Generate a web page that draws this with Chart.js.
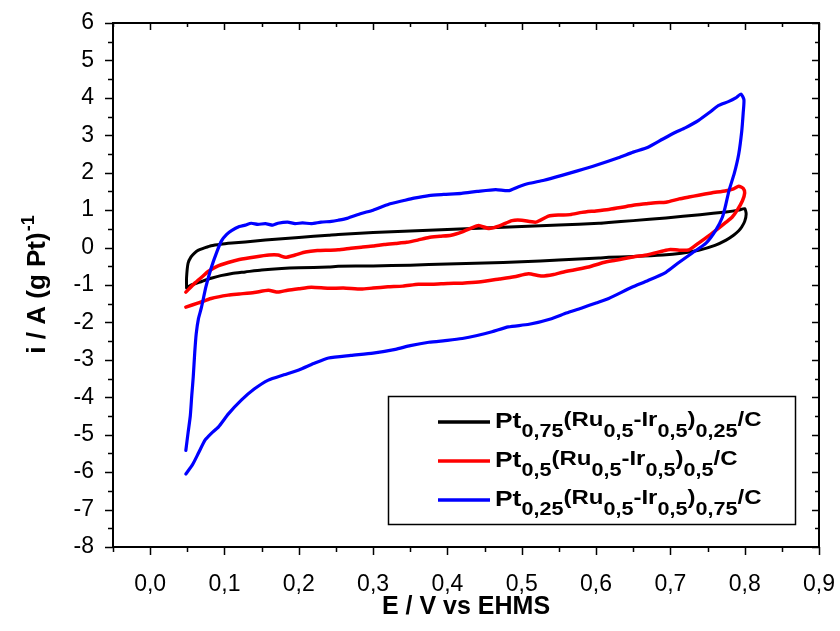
<!DOCTYPE html>
<html>
<head>
<meta charset="utf-8">
<script src="https://cdn.jsdelivr.net/npm/chart.js@4.4.1/dist/chart.umd.min.js"></script>
<style>
html,body{margin:0;padding:0;background:#fff;}
canvas{display:block;}
</style>
</head>
<body>
<canvas id="c" width="840" height="631"></canvas>
<script>
// ---------- data ----------
const xTickValues = [0, 0.1, 0.2, 0.3, 0.4, 0.5, 0.6, 0.7, 0.8, 0.9];
const xTickLabels = ['0,0','0,1','0,2','0,3','0,4','0,5','0,6','0,7','0,8','0,9'];
const xMinorValues = [-0.05, 0.05, 0.15, 0.25, 0.35, 0.45, 0.55, 0.65, 0.75, 0.85];
const yTickValues = [-8,-7,-6,-5,-4,-3,-2,-1,0,1,2,3,4,5,6];
const yTickLabels = ['-8','-7','-6','-5','-4','-3','-2','-1','0','1','2','3','4','5','6'];
const yMinorValues = [-7.5,-6.5,-5.5,-4.5,-3.5,-2.5,-1.5,-0.5,0.5,1.5,2.5,3.5,4.5,5.5];

const seriesLabels = [
  'Pt_{0,75}(Ru_{0,5}-Ir_{0,5})_{0,25}/C',
  'Pt_{0,5}(Ru_{0,5}-Ir_{0,5})_{0,5}/C',
  'Pt_{0,25}(Ru_{0,5}-Ir_{0,5})_{0,75}/C'
];
const seriesColors = ['#000000', '#ff0000', '#0000ff'];

const blackE = [0.049,0.049,0.051,0.055,0.060,0.065,0.073,0.082,0.095,0.110,0.128,0.155,0.200,0.240,0.253,0.300,0.350,0.400,0.450,0.500,0.550,0.604,0.617,0.650,0.694,0.740,0.775,0.792,0.800,0.802,0.800,0.796,0.792,0.785,0.775,0.760,0.738,0.715,0.690,0.650,0.617,0.604,0.550,0.500,0.450,0.400,0.350,0.300,0.253,0.240,0.200,0.177,0.150,0.128,0.110,0.095,0.082,0.070,0.060,0.055,0.049];
const blackI = [-1.08,-0.80,-0.42,-0.25,-0.14,-0.07,-0.01,0.05,0.09,0.12,0.15,0.20,0.27,0.33,0.35,0.40,0.44,0.48,0.52,0.56,0.60,0.65,0.67,0.72,0.79,0.88,0.95,1.00,1.04,0.90,0.70,0.55,0.45,0.33,0.20,0.06,-0.07,-0.15,-0.20,-0.24,-0.26,-0.28,-0.33,-0.38,-0.41,-0.44,-0.47,-0.49,-0.50,-0.52,-0.54,-0.56,-0.60,-0.65,-0.69,-0.75,-0.82,-0.90,-0.97,-1.00,-1.08];

const redE = [0.048,0.060,0.070,0.078,0.090,0.105,0.120,0.141,0.160,0.172,0.182,0.195,0.209,0.225,0.240,0.253,0.270,0.284,0.300,0.315,0.330,0.345,0.360,0.375,0.390,0.405,0.420,0.432,0.442,0.456,0.470,0.487,0.500,0.519,0.536,0.550,0.565,0.581,0.600,0.617,0.633,0.650,0.667,0.680,0.694,0.712,0.725,0.738,0.755,0.775,0.785,0.792,0.798,0.800,0.797,0.790,0.783,0.775,0.765,0.752,0.738,0.725,0.712,0.700,0.690,0.670,0.650,0.626,0.610,0.590,0.570,0.555,0.543,0.527,0.509,0.490,0.470,0.442,0.420,0.400,0.380,0.361,0.340,0.320,0.300,0.284,0.260,0.240,0.217,0.200,0.185,0.172,0.159,0.140,0.120,0.105,0.082,0.065,0.048];
const redI = [-1.19,-0.95,-0.78,-0.64,-0.50,-0.40,-0.32,-0.25,-0.20,-0.20,-0.26,-0.20,-0.12,-0.08,-0.07,-0.06,-0.02,0.01,0.04,0.08,0.11,0.14,0.20,0.27,0.30,0.33,0.42,0.52,0.59,0.51,0.58,0.72,0.73,0.68,0.84,0.87,0.88,0.94,0.98,1.02,1.07,1.13,1.17,1.20,1.21,1.30,1.35,1.40,1.46,1.52,1.57,1.64,1.58,1.46,1.25,1.00,0.81,0.68,0.52,0.32,0.12,-0.06,-0.07,-0.05,-0.09,-0.19,-0.25,-0.34,-0.40,-0.52,-0.60,-0.66,-0.72,-0.76,-0.70,-0.78,-0.84,-0.92,-0.95,-0.96,-0.98,-0.98,-1.03,-1.05,-1.08,-1.11,-1.08,-1.09,-1.06,-1.10,-1.14,-1.19,-1.14,-1.20,-1.24,-1.27,-1.36,-1.48,-1.59];

const blueE = [0.048,0.051,0.054,0.056,0.058,0.060,0.062,0.065,0.069,0.075,0.082,0.090,0.096,0.103,0.110,0.120,0.128,0.136,0.145,0.155,0.165,0.172,0.185,0.195,0.205,0.217,0.230,0.244,0.253,0.265,0.284,0.300,0.321,0.340,0.355,0.375,0.395,0.419,0.440,0.465,0.482,0.495,0.509,0.530,0.554,0.575,0.600,0.630,0.650,0.670,0.690,0.707,0.720,0.738,0.752,0.765,0.778,0.788,0.795,0.799,0.798,0.796,0.792,0.786,0.779,0.774,0.770,0.761,0.748,0.729,0.710,0.694,0.670,0.648,0.617,0.600,0.580,0.560,0.540,0.510,0.482,0.460,0.440,0.420,0.400,0.375,0.350,0.330,0.300,0.270,0.240,0.220,0.200,0.180,0.159,0.140,0.123,0.105,0.092,0.082,0.074,0.065,0.057,0.048];
const blueI = [-5.42,-4.95,-4.50,-3.95,-3.45,-2.80,-2.30,-1.90,-1.60,-1.05,-0.55,-0.10,0.18,0.35,0.46,0.56,0.60,0.65,0.62,0.64,0.60,0.65,0.68,0.64,0.66,0.64,0.68,0.70,0.73,0.78,0.91,1.00,1.16,1.25,1.32,1.39,1.42,1.45,1.50,1.55,1.52,1.62,1.71,1.80,1.93,2.05,2.20,2.40,2.55,2.68,2.90,3.08,3.20,3.40,3.60,3.80,3.90,4.00,4.10,3.95,3.60,3.10,2.50,1.98,1.53,1.10,0.81,0.46,0.12,-0.15,-0.42,-0.66,-0.88,-1.06,-1.36,-1.48,-1.62,-1.75,-1.90,-2.05,-2.12,-2.25,-2.35,-2.43,-2.48,-2.53,-2.62,-2.72,-2.82,-2.88,-2.95,-3.10,-3.27,-3.40,-3.54,-3.78,-4.07,-4.45,-4.79,-4.97,-5.14,-5.49,-5.80,-6.05];

// ---------- helpers ----------
const FONT = "'Liberation Sans', Arial, sans-serif";
function toPts(xs, ys){ return xs.map((x,i)=>({x:x, y:ys[i]})); }
function parseRich(s){
  const parts=[]; const re=/_\{([^}]*)\}/g; let last=0, m;
  while((m=re.exec(s))){ if(m.index>last) parts.push({t:s.slice(last,m.index),sub:false}); parts.push({t:m[1],sub:true}); last=re.lastIndex; }
  if(last<s.length) parts.push({t:s.slice(last),sub:false});
  return parts;
}

// frame + ticks on all four sides, positioned by the chart scales
const framePlugin = {
  id:'frame',
  afterDraw(chart){
    const {ctx, chartArea:{left,right,top,bottom}} = chart;
    const xs = chart.scales.x, ys = chart.scales.y;
    ctx.save();
    ctx.strokeStyle='#000';
    ctx.lineWidth=1.5;
    ctx.beginPath();
    xTickValues.forEach(v=>{ const p=Math.round(xs.getPixelForValue(v))+0.5;
      ctx.moveTo(p,bottom); ctx.lineTo(p,bottom+8); ctx.moveTo(p,top); ctx.lineTo(p,top+7); });
    xMinorValues.forEach(v=>{ const p=Math.round(xs.getPixelForValue(v))+0.5;
      ctx.moveTo(p,bottom); ctx.lineTo(p,bottom+5); ctx.moveTo(p,top); ctx.lineTo(p,top+4); });
    yTickValues.forEach(v=>{ const p=Math.round(ys.getPixelForValue(v))+0.5;
      ctx.moveTo(left,p); ctx.lineTo(left-8,p); ctx.moveTo(right,p); ctx.lineTo(right-7,p); });
    yMinorValues.forEach(v=>{ const p=Math.round(ys.getPixelForValue(v))+0.5;
      ctx.moveTo(left,p); ctx.lineTo(left-5,p); ctx.moveTo(right,p); ctx.lineTo(right-4,p); });
    ctx.stroke();
    ctx.lineWidth=2;
    ctx.strokeRect(left, top, right-left, bottom-top);
    ctx.restore();
  }
};

// y title with superscript
const yTitlePlugin = {
  id:'ytitle',
  afterDraw(chart){
    const {ctx, chartArea:{top,bottom}} = chart;
    const mainTxt='i / A (g Pt)', supTxt='-1';
    ctx.save();
    ctx.fillStyle='#000';
    ctx.translate(36, (top+bottom)/2);
    ctx.rotate(-Math.PI/2);
    ctx.font='bold 26px '+FONT;
    const w1=ctx.measureText(mainTxt).width;
    ctx.font='bold 18px '+FONT;
    const w2=ctx.measureText(supTxt).width;
    const x0=-(w1+w2)/2;
    ctx.textBaseline='alphabetic';
    ctx.font='bold 26px '+FONT;
    ctx.fillText(mainTxt, x0, 9);
    ctx.font='bold 18px '+FONT;
    ctx.fillText(supTxt, x0+w1+1, -2);
    ctx.restore();
  }
};

// legend with subscripts
const legendPlugin = {
  id:'richLegend',
  afterDraw(chart){
    const {ctx, chartArea:{left,right,top,bottom}} = chart;
    const bx = right-431, by = bottom-151, bw = 407, bh = 128;
    ctx.save();
    ctx.fillStyle='#fff';
    ctx.fillRect(bx,by,bw,bh);
    ctx.strokeStyle='#000'; ctx.lineWidth=1.5;
    ctx.strokeRect(bx+0.5,by+0.5,bw,bh);
    const stretch = 1.2;
    seriesLabels.forEach((lab,i)=>{
      const ly = by + 26 + i*39;
      ctx.strokeStyle = seriesColors[i]; ctx.lineWidth = 3.5;
      ctx.beginPath(); ctx.moveTo(bx+50, ly); ctx.lineTo(bx+102, ly); ctx.stroke();
      ctx.fillStyle='#000';
      ctx.save();
      ctx.translate(bx+107, ly+6);
      ctx.scale(stretch,1);
      let x=0;
      parseRich(lab).forEach((p,j)=>{
        let font, dy;
        if(p.sub){ font='bold 18px '+FONT; dy=9; }
        else if(j===0){ font='bold 22px '+FONT; dy=0; }
        else { font='bold 20px '+FONT; dy=-2; }
        ctx.font=font;
        ctx.fillText(p.t, x, dy);
        x += ctx.measureText(p.t).width;
      });
      ctx.restore();
    });
    ctx.restore();
  }
};

const lineDs = (i, xs, ys, order, w) => ({
  label: seriesLabels[i].replace(/_\{([^}]*)\}/g,'$1'),
  data: toPts(xs, ys),
  showLine: true,
  borderColor: seriesColors[i],
  backgroundColor: seriesColors[i],
  borderWidth: w,
  pointRadius: 0,
  fill: false,
  tension: 0.2,
  borderJoinStyle: 'round',
  borderCapStyle: 'round',
  order: order
});

new Chart(document.getElementById('c'), {
  type: 'scatter',
  data: {
    datasets: [
      lineDs(0, blackE, blackI, 3, 3),
      lineDs(1, redE, redI, 2, 3.5),
      lineDs(2, blueE, blueI, 1, 3.2)
    ]
  },
  options: {
    responsive: false,
    animation: false,
    layout: { padding: { left: 0, right: 21, top: 23, bottom: 0 } },
    plugins: { legend: { display: false }, tooltip: { enabled: false } },
    scales: {
      x: {
        type: 'linear', min: -0.05, max: 0.9,
        afterBuildTicks: s => { s.ticks = xTickValues.map(v => ({ value: v })); },
        afterFit: s => { s.height = 84; s.paddingRight = 0; s.paddingLeft = 0; },
        ticks: { callback: (v, i) => xTickLabels[i], color: '#000', font: { family: FONT, size: 23 }, padding: 16, maxRotation: 0, autoSkip: false },
        grid: { display: false },
        border: { display: false },
        title: { display: true, text: 'E / V vs EHMS', color: '#000', font: { family: FONT, size: 25, weight: 'bold' }, padding: { top: 0, bottom: 9 } }
      },
      y: {
        type: 'linear', min: -8, max: 6,
        afterBuildTicks: s => { s.ticks = yTickValues.map(v => ({ value: v })); },
        afterFit: s => { s.width = 113; s.paddingTop = 0; s.paddingBottom = 0; },
        ticks: { callback: (v, i) => yTickLabels[i], color: '#000', font: { family: FONT, size: 23 }, padding: 11, autoSkip: false },
        grid: { display: false },
        border: { display: false },
        title: { display: false }
      }
    }
  },
  plugins: [framePlugin, yTitlePlugin, legendPlugin]
});
</script>
</body>
</html>
